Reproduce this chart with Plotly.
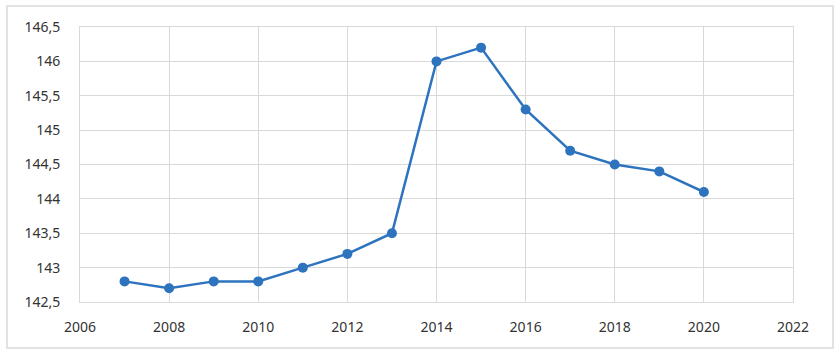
import plotly.graph_objects as go

years = [2007, 2008, 2009, 2010, 2011, 2012, 2013, 2014, 2015, 2016, 2017, 2018, 2019, 2020]
values = [142.8, 142.7, 142.8, 142.8, 143.0, 143.2, 143.5, 146.0, 146.2, 145.3, 144.7, 144.5, 144.4, 144.1]
y_ticks = [142.5, 143.0, 143.5, 144.0, 144.5, 145.0, 145.5, 146.0, 146.5]
y_labels = ["142,5", "143", "143,5", "144", "144,5", "145", "145,5", "146", "146,5"]
x_ticks = [2006, 2008, 2010, 2012, 2014, 2016, 2018, 2020, 2022]

fig = go.Figure()
fig.add_trace(go.Scatter(
    x=years, y=values, mode="lines+markers",
    line=dict(color="#2E73BE", width=2.5),
    marker=dict(color="#2E73BE", size=10),
    showlegend=False,
))

grid = "#D9D9D9"
fig.update_layout(
    width=839, height=357,
    margin=dict(l=80, r=46, t=27, b=55),
    paper_bgcolor="white", plot_bgcolor="white",
    font=dict(family="Noto Sans", size=14, color="#333333"),
    xaxis=dict(range=[2006, 2022], tickvals=x_ticks, showgrid=True, gridcolor=grid, gridwidth=1,
               showline=True, linecolor=grid, mirror=True, zeroline=False, ticks="",
               ticklabelstandoff=12),
    yaxis=dict(range=[142.5, 146.5], tickvals=y_ticks, ticktext=y_labels, showgrid=True,
               gridcolor=grid, gridwidth=1, showline=True, linecolor=grid, mirror=True,
               zeroline=False, ticks="", ticklabelstandoff=16),
    shapes=[dict(type="rect", xref="paper", yref="paper",
                 x0=(7 - 80) / 713, x1=(833 - 80) / 713,
                 y0=(302 - 348) / 275, y1=(302 - 6) / 275,
                 line=dict(color="#D9D9D9", width=1.5), layer="below")],
)

fig.write_html("out.html", config={"displayModeBar": False},
               post_script="document.body.style.margin='0';")
